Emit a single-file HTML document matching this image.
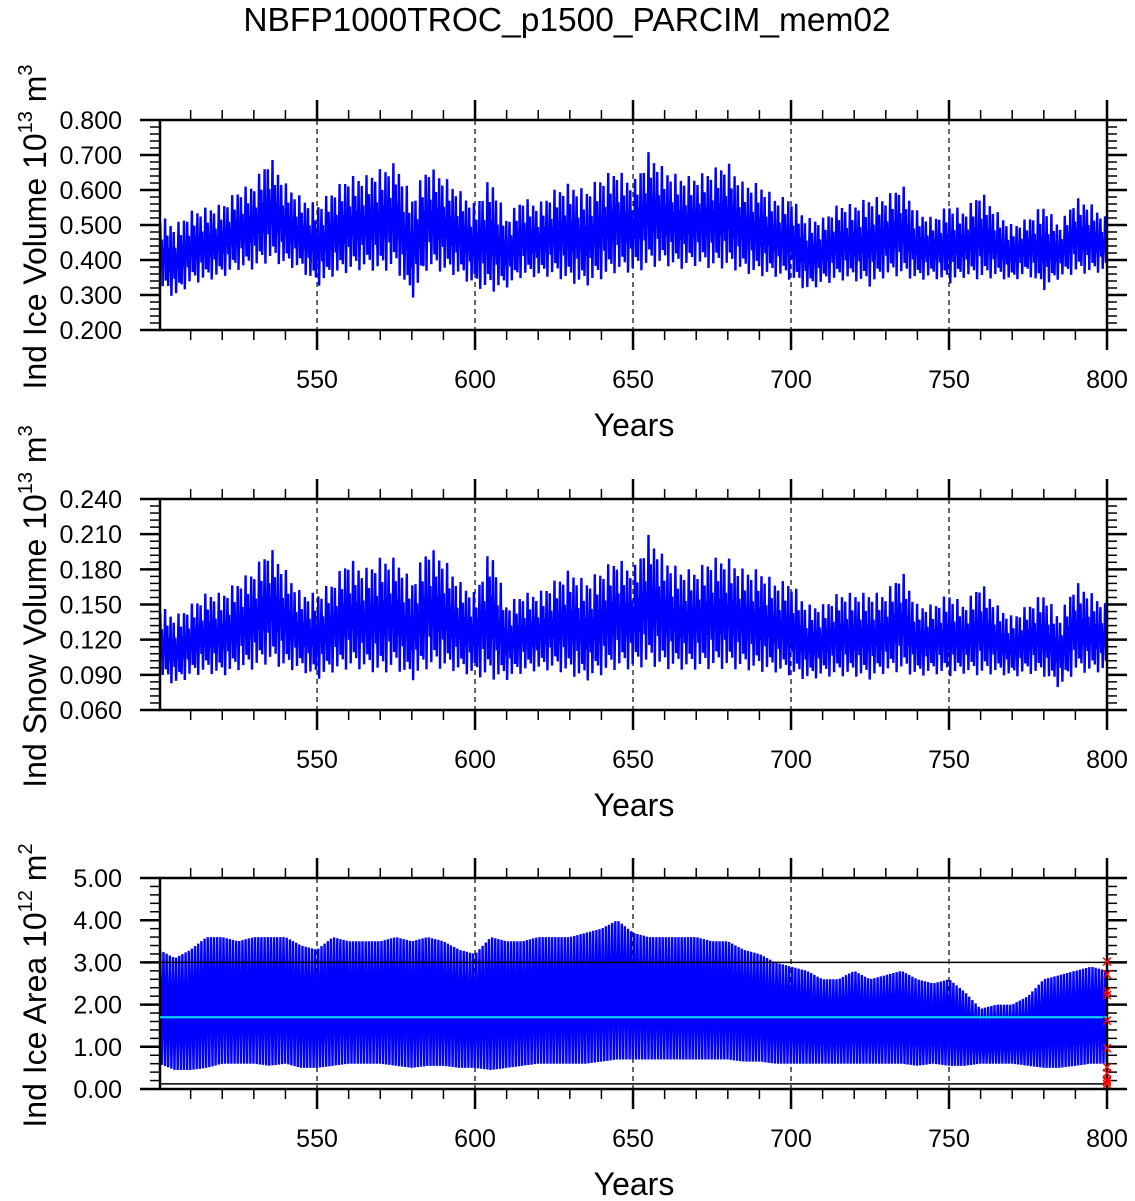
<!DOCTYPE html>
<html><head><meta charset="utf-8"><style>
html,body{margin:0;padding:0;background:#fff}
svg{display:block;font-family:"Liberation Sans",Arial,sans-serif}
</style></head><body>
<svg id="chart" width="1135" height="1201" viewBox="0 0 1135 1201">
<text x="567" y="31" font-size="33.5" text-anchor="middle">NBFP1000TROC_p1500_PARCIM_mem02</text>
</svg>
<script>
// x-axis data (5-year envelope sample years)
const envYears = [];
for (let y = 500; y <= 800; y += 5) envYears.push(y);
const xTicks = [550, 600, 650, 700, 750, 800];

// Panel 1: ice volume
const iceVolMax = [0.53,0.50,0.54,0.55,0.56,0.60,0.62,0.70,0.62,0.58,0.56,0.60,0.64,0.64,0.66,0.68,0.58,0.67,0.64,0.60,0.56,0.64,0.52,0.58,0.56,0.60,0.62,0.60,0.64,0.66,0.62,0.71,0.66,0.64,0.64,0.66,0.68,0.62,0.62,0.58,0.58,0.52,0.52,0.56,0.56,0.58,0.58,0.62,0.54,0.52,0.56,0.54,0.60,0.54,0.50,0.52,0.56,0.50,0.58,0.56,0.52];
const iceVolMin = [0.31,0.28,0.32,0.33,0.34,0.36,0.36,0.38,0.37,0.36,0.31,0.34,0.35,0.36,0.35,0.36,0.27,0.36,0.35,0.34,0.31,0.29,0.31,0.34,0.34,0.34,0.32,0.31,0.33,0.35,0.35,0.36,0.37,0.36,0.37,0.36,0.36,0.35,0.34,0.34,0.33,0.30,0.32,0.33,0.33,0.31,0.34,0.34,0.33,0.34,0.32,0.34,0.33,0.34,0.33,0.35,0.30,0.34,0.35,0.35,0.36];
const iceVolTicks = ["0.200","0.300","0.400","0.500","0.600","0.700","0.800"];

// Panel 2: snow volume
const snowMax = [0.15,0.14,0.15,0.16,0.16,0.17,0.18,0.20,0.18,0.16,0.16,0.17,0.19,0.18,0.19,0.19,0.17,0.20,0.19,0.17,0.16,0.20,0.15,0.16,0.16,0.17,0.18,0.17,0.18,0.19,0.18,0.21,0.19,0.18,0.18,0.19,0.19,0.18,0.18,0.17,0.17,0.15,0.15,0.16,0.16,0.16,0.16,0.18,0.15,0.15,0.16,0.15,0.17,0.15,0.14,0.15,0.16,0.14,0.17,0.16,0.15];
const snowMin = [0.085,0.078,0.085,0.088,0.085,0.09,0.09,0.095,0.09,0.09,0.082,0.088,0.09,0.09,0.085,0.09,0.08,0.09,0.09,0.088,0.085,0.08,0.082,0.088,0.09,0.09,0.085,0.08,0.085,0.09,0.09,0.092,0.09,0.09,0.09,0.09,0.09,0.09,0.088,0.088,0.085,0.082,0.085,0.085,0.085,0.082,0.088,0.088,0.085,0.088,0.085,0.088,0.085,0.088,0.085,0.088,0.085,0.075,0.088,0.088,0.09];
const snowTicks = ["0.060","0.090","0.120","0.150","0.180","0.210","0.240"];

// Panel 3: ice area
const areaMax = [3.3,3.1,3.3,3.6,3.6,3.5,3.6,3.6,3.6,3.4,3.3,3.6,3.5,3.5,3.5,3.6,3.5,3.6,3.5,3.3,3.2,3.6,3.5,3.5,3.6,3.6,3.6,3.7,3.8,4.0,3.7,3.6,3.6,3.6,3.6,3.5,3.5,3.3,3.2,3.0,2.9,2.8,2.6,2.6,2.8,2.6,2.7,2.8,2.6,2.5,2.6,2.3,1.9,2.0,2.0,2.2,2.6,2.7,2.8,2.9,2.8];
const areaMin = [0.6,0.45,0.45,0.5,0.6,0.6,0.6,0.55,0.6,0.5,0.5,0.55,0.6,0.6,0.6,0.55,0.5,0.55,0.55,0.5,0.5,0.45,0.5,0.55,0.6,0.6,0.6,0.6,0.65,0.7,0.7,0.7,0.7,0.7,0.7,0.7,0.7,0.65,0.65,0.6,0.6,0.6,0.6,0.6,0.6,0.6,0.6,0.6,0.55,0.6,0.55,0.55,0.6,0.6,0.6,0.55,0.5,0.5,0.55,0.6,0.6];
const areaTicks = ["0.00","1.00","2.00","3.00","4.00","5.00"];
const areaRefLines = [3.0, 1.7, 0.12];
const areaMarkers = [3.0, 2.7, 2.3, 2.2, 1.6, 0.95, 0.5, 0.35, 0.2, 0.15, 0.1];

const NS = "http://www.w3.org/2000/svg";
const svg = document.getElementById("chart");
const X0 = 160, X1 = 1107, YR0 = 500.3, YR1 = 800;
function xs(v){ return X0 + (v - YR0) / (YR1 - YR0) * (X1 - X0); }
function mk(tag, attrs, parent){
  const e = document.createElementNS(NS, tag);
  for (const k in attrs) e.setAttribute(k, attrs[k]);
  (parent || svg).appendChild(e);
  return e;
}
function envAt(arr, yr){
  const t = (yr - 500) / 5; const i = Math.min(Math.floor(t), arr.length - 2); const f = t - i;
  return arr[i] * (1 - f) + arr[i + 1] * f;
}
const noisePos = [0.9,0.3,0.7,0.1,0.6,0.4,1,0.2,0.5,0.8,0.15,0.65,0.35,0.95,0.05,0.55,0.45];

function panel(name, top, bottom, ymin, ymax, ticks, minorN, maxArr, minArr, titleMain, expo, unitPow, seasonal){
  const g = mk("g", {});
  
  
  const ys = v => bottom - (v - ymin) / (ymax - ymin) * (bottom - top);
  xTicks.slice(0, 5).forEach(t => {
    const l = mk("line", {x1: xs(t), x2: xs(t), y1: top, y2: bottom, stroke: "#000", "stroke-width": 1.2, "stroke-dasharray": "5,4"}, g);
    
    
  });
  let d = "";
  const stepYr = seasonal ? 0.5 : 0.25;
  let k = 0;
  for (let yr = 500.4; yr < 800; yr += stepYr, k++) {
    const hi = envAt(maxArr, yr), lo = envAt(minArr, yr);
    const frac = seasonal ? (k % 2 === 0 ? 1 : 0) : noisePos[k % noisePos.length];
    const v = lo + (hi - lo) * frac;
    d += (d ? "L" : "M") + xs(yr).toFixed(1) + "," + ys(v).toFixed(1);
  }
  const cp = mk("clipPath", {id: "clip-" + name}, g);
  mk("rect", {x: X0, y: top, width: X1 - X0, height: bottom - top}, cp);
  const p = mk("path", {d: d, fill: "none", stroke: "#0000ff", "stroke-width": seasonal ? 2.4 : 2.4, "clip-path": "url(#clip-" + name + ")"}, g);
  
  
  const fr = mk("rect", {x: X0, y: top, width: X1 - X0, height: bottom - top, fill: "none", stroke: "#000", "stroke-width": 2.5}, g);
  
  
  for (let yr = 510; yr <= 800; yr += 10) {
    const major = yr % 50 === 0; const L = major ? 20 : 10; const x = xs(yr);
    mk("line", {x1: x, x2: x, y1: bottom, y2: bottom + L, stroke: "#000", "stroke-width": major ? 2.5 : 1.5}, g);
    mk("line", {x1: x, x2: x, y1: top, y2: top - L, stroke: "#000", "stroke-width": major ? 2.5 : 1.5}, g);
  }
  xTicks.forEach(t => {
    const tx = mk("text", {x: xs(t), y: bottom + 58, "font-size": 25, "text-anchor": "middle"}, g);
    tx.textContent = t;
    
    
  });
  const xt = mk("text", {x: 634, y: bottom + 106, "font-size": 32, "text-anchor": "middle"}, g);
  xt.textContent = "Years";
  
  
  const step = (ymax - ymin) / (ticks.length - 1);
  for (let i = 0; i < ticks.length; i++) {
    const v = ymin + i * step, y = ys(v);
    mk("line", {x1: X0 - 20, x2: X0, y1: y, y2: y, stroke: "#000", "stroke-width": 2.5}, g);
    mk("line", {x1: X1, x2: X1 + 20, y1: y, y2: y, stroke: "#000", "stroke-width": 2.5}, g);
    const tx = mk("text", {x: 122, y: y + 9, "font-size": 25, "text-anchor": "end"}, g);
    tx.textContent = ticks[i];
    
    
    if (i < ticks.length - 1) for (let m = 1; m < minorN; m++) {
      const ym = ys(v + step * m / minorN);
      mk("line", {x1: X0 - 10, x2: X0, y1: ym, y2: ym, stroke: "#000", "stroke-width": 1.5}, g);
      mk("line", {x1: X1, x2: X1 + 10, y1: ym, y2: ym, stroke: "#000", "stroke-width": 1.5}, g);
    }
  }
  const cy = (top + bottom) / 2 + 2;
  const yt = mk("text", {transform: "translate(46," + cy + ") rotate(-90)", "font-size": 32, "text-anchor": "middle"}, g);
  
  
  const a = mk("tspan", {}, yt); a.textContent = titleMain + " 10";
  const b = mk("tspan", {"font-size": 20, dy: -14}, yt); b.textContent = expo;
  const c = mk("tspan", {dy: 14}, yt); c.textContent = " m";
  const e = mk("tspan", {"font-size": 20, dy: -14}, yt); e.textContent = unitPow;
  return {g, ys};
}

panel("ice-volume", 120, 330, 0.2, 0.8, iceVolTicks, 5, iceVolMax, iceVolMin, "Ind Ice Volume", "13", "3", false);
panel("snow-volume", 499, 710, 0.06, 0.24, snowTicks, 5, snowMax, snowMin, "Ind Snow Volume", "13", "3", false);
const p3 = panel("ice-area", 878, 1089, 0, 5, areaTicks, 5, areaMax, areaMin, "Ind Ice Area", "12", "2", true);

areaRefLines.forEach((v, i) => {
  const l = mk("line", {x1: X0, x2: X1, y1: p3.ys(v), y2: p3.ys(v), stroke: i === 1 ? "#00e5ff" : "#000", "stroke-width": i === 1 ? 2 : 1.5}, p3.g);
  
  
});
areaMarkers.forEach(v => {
  const t = mk("text", {x: xs(800), y: p3.ys(v) + 6, "font-size": 20, "text-anchor": "middle", fill: "#ff0000"}, p3.g);
  t.textContent = "×";
  
  
});
</script>
</body></html>
